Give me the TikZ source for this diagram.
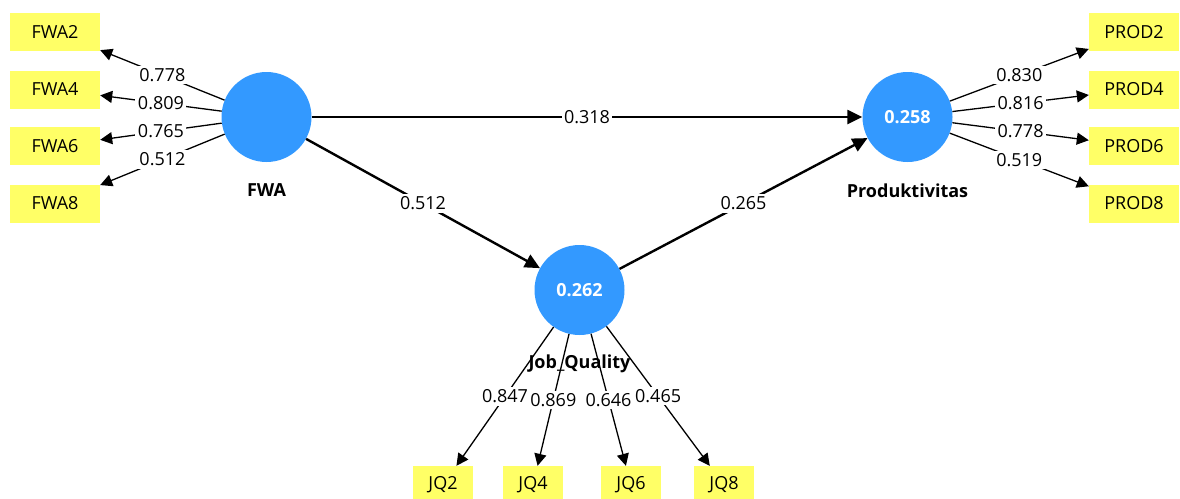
\documentclass[tikz,border=0pt]{standalone}
\usepackage{fontspec}
\setmainfont{Open Sans}
\usetikzlibrary{arrows.meta}
\definecolor{lvblue}{RGB}{51,153,255}
\definecolor{mvyellow}{RGB}{255,255,102}
\begin{document}
\begin{tikzpicture}[x=1pt,y=-1pt,
  txt/.style={font=\fontsize{18}{21}\selectfont},
  lv/.style={circle, fill=lvblue, minimum size=90pt, inner sep=0pt, text=white,
    font=\bfseries\fontsize{18}{21}\selectfont},
  lvname/.style={font=\bfseries\fontsize{18}{21}\selectfont},
  mv/.style={rectangle, fill=mvyellow, minimum width=90pt, minimum height=38pt,
    inner sep=0pt, txt},
  mvs/.style={mv, minimum width=60pt},
  lbl/.style={fill=white, inner sep=2.5pt, txt},
  outer/.style={line width=1.3pt, -{Triangle[length=12pt,width=12pt]}},
  inner/.style={line width=2.4pt, -{Triangle[length=15pt,width=14pt]}}
]
\useasboundingbox (0,0) rectangle (1180,498);

% latent variables
\node[lv] (FWA)  at (266.5,117) {};
\node[lv] (PROD) at (907.5,117) {0.258};
\node[lv] (JQ)   at (579.5,290) {0.262};

% indicators of FWA
\node[mv] (FWA2) at (55,32)    {FWA2};
\node[mv] (FWA4) at (55,89.5)  {FWA4};
\node[mv] (FWA6) at (55,146)   {FWA6};
\node[mv] (FWA8) at (55,203.5) {FWA8};

% indicators of Produktivitas
\node[mv] (PROD2) at (1134,32)    {PROD2};
\node[mv] (PROD4) at (1134,89.5)  {PROD4};
\node[mv] (PROD6) at (1134,146)   {PROD6};
\node[mv] (PROD8) at (1134,203.5) {PROD8};

% indicators of Job_Quality
\node[mvs] (JQ2) at (443,485) {JQ2};
\node[mvs] (JQ4) at (533,485) {JQ4};
\node[mvs] (JQ6) at (631,485) {JQ6};
\node[mvs] (JQ8) at (724,485) {JQ8};

% outer loadings
\draw[outer] (FWA) -- (FWA2) node[lbl, midway] {0.778};
\draw[outer] (FWA) -- (FWA4) node[lbl, midway] {0.809};
\draw[outer] (FWA) -- (FWA6) node[lbl, midway] {0.765};
\draw[outer] (FWA) -- (FWA8) node[lbl, midway] {0.512};

\draw[outer] (PROD) -- (PROD2) node[lbl, midway] {0.830};
\draw[outer] (PROD) -- (PROD4) node[lbl, midway] {0.816};
\draw[outer] (PROD) -- (PROD6) node[lbl, midway] {0.778};
\draw[outer] (PROD) -- (PROD8) node[lbl, midway] {0.519};

\draw[outer] (JQ) -- (JQ2) node[lbl, midway] {0.847};
\draw[outer] (JQ) -- (JQ4) node[lbl, midway] {0.869};
\draw[outer] (JQ) -- (JQ6) node[lbl, midway] {0.646};
\draw[outer] (JQ) -- (JQ8) node[lbl, midway] {0.465};

% path coefficients
\draw[inner] (FWA) -- (PROD) node[lbl, midway] {0.318};
\draw[inner] (FWA) -- (JQ)   node[lbl, midway] {0.512};
\draw[inner] (JQ)  -- (PROD) node[lbl, midway] {0.265};

% construct names
\node[lvname] (FWAname)  at (266.5,190) {FWA};
\node[lvname] (PRODname) at (907.5,191) {Produktivitas};
\node[lvname] (JQname)   at (579.5,364) {Job\_Quality};
\end{tikzpicture}
\end{document}
